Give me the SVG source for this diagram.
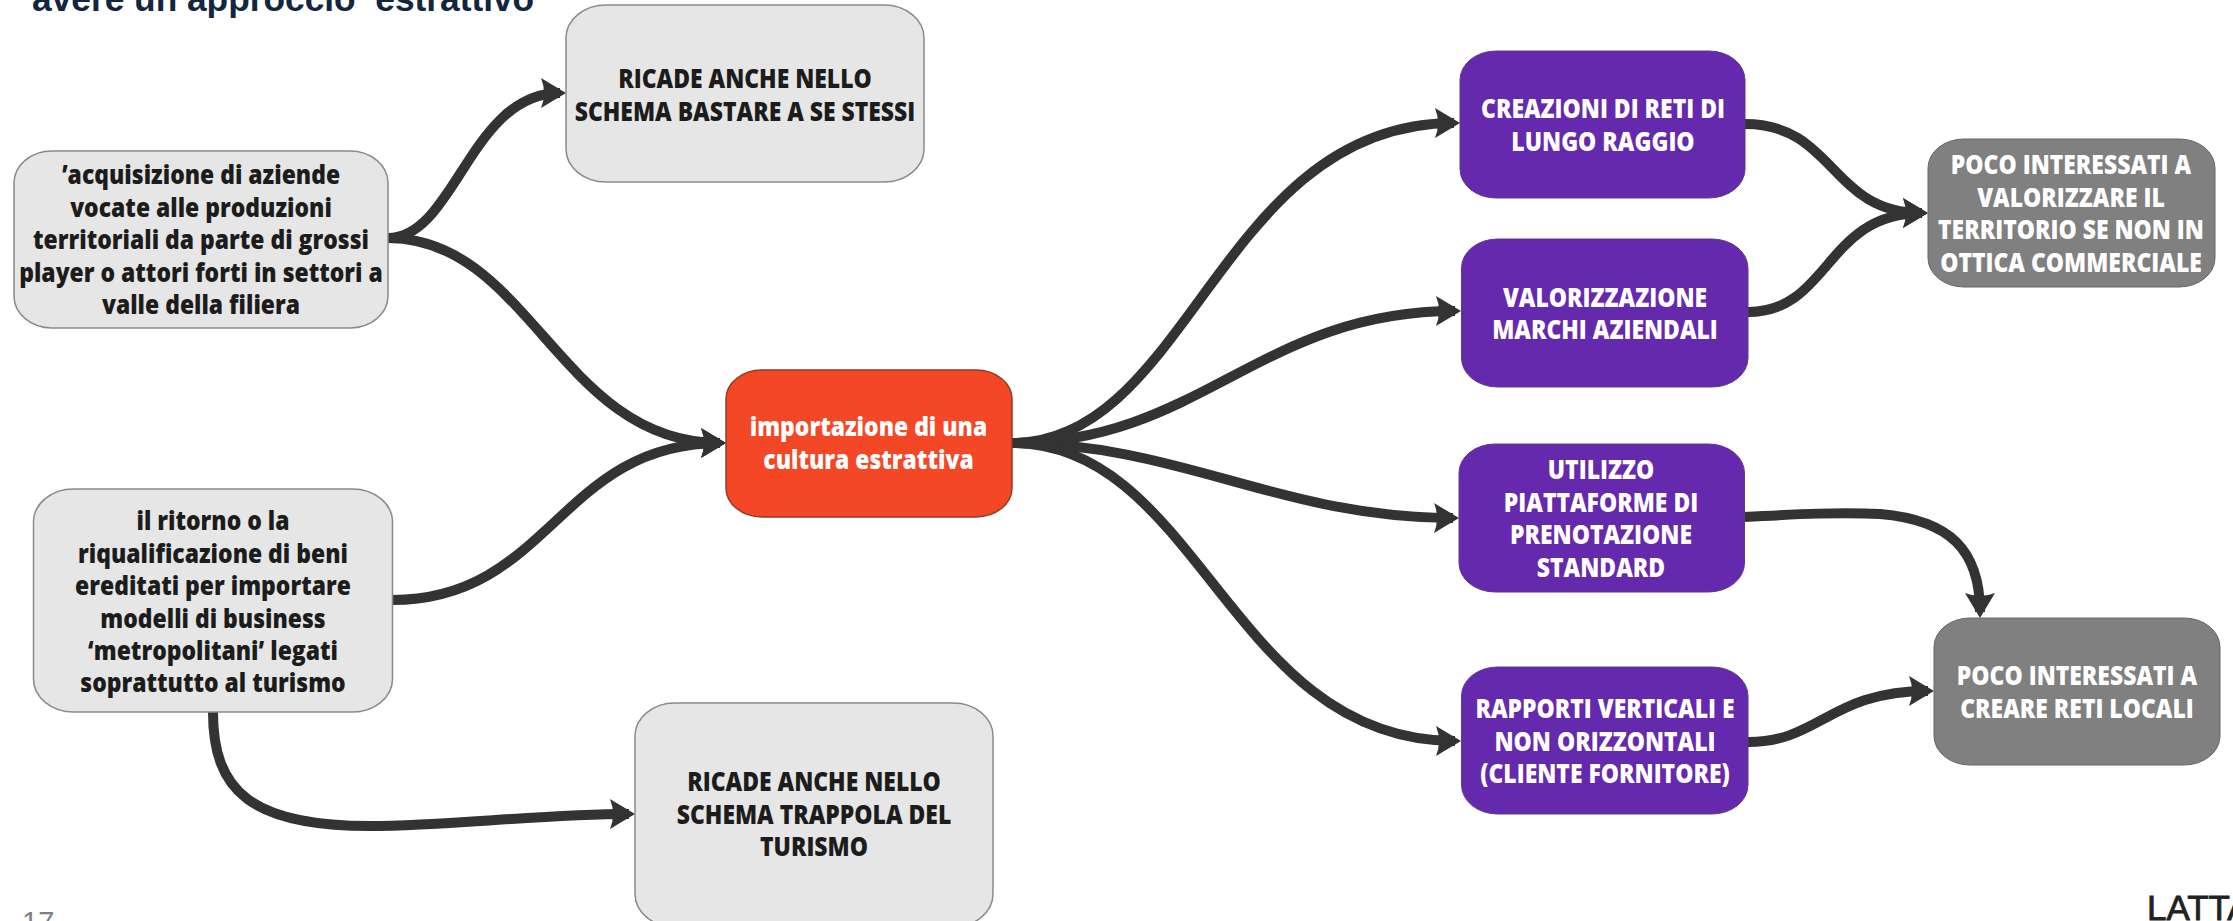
<svg xmlns="http://www.w3.org/2000/svg" width="2233" height="921" viewBox="0 0 2233 921">
<style>
text{font-family:"Open Sans","Liberation Sans",sans-serif;font-weight:800;font-size:26.500px;text-anchor:middle;transform-box:fill-box;transform-origin:center;transform:translateY(1.5px) scaleX(.865)}
.l rect{fill:#e6e6e6;stroke:#8a8a8a;stroke-width:1.5}
.l text{fill:#1c1c1c}
.r rect{fill:#f44725;stroke:#8f3a28;stroke-width:1.5}
.p rect{fill:#6529ae;stroke:#5b3a8c;stroke-width:1}
.g rect{fill:#808080;stroke:#666;stroke-width:1}
.r text,.p text,.g text{fill:#fff}
.c path{fill:none;stroke:#333;stroke-width:10;marker-end:url(#a)}
.t{font-family:"Liberation Sans",Arial,sans-serif;font-weight:700;text-anchor:start;transform:none}
</style>
<defs>
<marker id="a" markerUnits="userSpaceOnUse" markerWidth="30" markerHeight="36" refX="20" refY="18" orient="auto" viewBox="0 0 30 36">
<path d="M1,3 L26,18 L1,33 Q7,18 1,3 Z" fill="#333"/>
</marker>
</defs>
<rect width="2233" height="921" fill="#fff"/>
<text class="t" x="32" y="11" style="font-size:35.300px;fill:#12263f">avere un approccio ‘estrattivo’</text>
<text class="t" x="22" y="932" style="font-size:29px;font-weight:400;fill:#7f7f7f">17</text>
<text class="t" x="2147" y="920" style="font-size:35px;font-weight:400;fill:#222;stroke:#222;stroke-width:.8">LATTA</text>
<g id="connectors" class="c">
<path d="M388,238 C455,238 470,93 560,93"/>
<path d="M388,238 C530,238 560,443 720,443"/>
<path d="M392,600 C550,600 560,443 720,443"/>
<path d="M213,712 C213,790 250,826 370,826 C450,826 540,814 629,814"/>
<path d="M1012,443 C1190,443 1220,123 1454,123"/>
<path d="M1012,443 C1200,443 1260,311 1455,311"/>
<path d="M1012,443 C1180,443 1280,518 1453,518"/>
<path d="M1012,443 C1200,443 1230,741 1455,741"/>
<path d="M1745,124 C1835,124 1830,213 1922,213"/>
<path d="M1748,312 C1830,312 1825,213 1922,213"/>
<path d="M1744,517 C1800,514 1840,512 1880,514 C1950,520 1980,550 1980,612"/>
<path d="M1748,742 C1820,742 1830,691 1928,691"/>
</g>
<g id="n-a" class="l"><rect x="14" y="151" width="374" height="177" rx="38" ry="32"/>
<text x="201" y="183">’acquisizione di aziende</text><text x="201" y="216">vocate alle produzioni</text><text x="201" y="248">territoriali da parte di grossi</text><text x="201" y="281">player o attori forti in settori a</text><text x="201" y="313">valle della filiera</text></g>
<g id="n-b" class="l"><rect x="566" y="5" width="358" height="177" rx="40" ry="33"/>
<text x="745" y="87">RICADE ANCHE NELLO</text><text x="745" y="119.500">SCHEMA BASTARE A SE STESSI</text></g>
<g id="n-c" class="l"><rect x="33.500" y="489" width="359" height="223" rx="40" ry="33"/>
<text x="213" y="529">il ritorno o la</text><text x="213" y="561.500">riqualificazione di beni</text><text x="213" y="594">ereditati per importare</text><text x="213" y="626.500">modelli di business</text><text x="213" y="659">‘metropolitani’ legati</text><text x="213" y="691">soprattutto al turismo</text></g>
<g id="n-d" class="l"><rect x="635" y="703" width="358" height="224" rx="40" ry="33"/>
<text x="814" y="790">RICADE ANCHE NELLO</text><text x="814" y="822.500">SCHEMA TRAPPOLA DEL</text><text x="814" y="855">TURISMO</text></g>
<g id="n-red" class="r"><rect x="726" y="370" width="286" height="147" rx="36" ry="29"/>
<text x="868.500" y="435">importazione di una</text><text x="868.500" y="468">cultura estrattiva</text></g>
<g id="n-p1" class="p"><rect x="1460" y="51" width="285" height="147" rx="36" ry="29"/>
<text x="1603" y="117">CREAZIONI DI RETI DI</text><text x="1603" y="149.500">LUNGO RAGGIO</text></g>
<g id="n-p2" class="p"><rect x="1461.500" y="239" width="286.500" height="148" rx="36" ry="29"/>
<text x="1605" y="306">VALORIZZAZIONE</text><text x="1605" y="338">MARCHI AZIENDALI</text></g>
<g id="n-p3" class="p"><rect x="1459" y="444" width="285.500" height="148" rx="36" ry="29"/>
<text x="1601" y="478">UTILIZZO</text><text x="1601" y="510.500">PIATTAFORME DI</text><text x="1601" y="543">PRENOTAZIONE</text><text x="1601" y="575.500">STANDARD</text></g>
<g id="n-p4" class="p"><rect x="1461.500" y="667" width="286.500" height="147" rx="36" ry="29"/>
<text x="1605" y="717">RAPPORTI VERTICALI E</text><text x="1605" y="749.500">NON ORIZZONTALI</text><text x="1605" y="782">(CLIENTE FORNITORE)</text></g>
<g id="n-g1" class="g"><rect x="1928" y="139" width="287" height="148" rx="36" ry="29"/>
<text x="2071" y="173">POCO INTERESSATI A</text><text x="2071" y="205.500">VALORIZZARE IL</text><text x="2071" y="238">TERRITORIO SE NON IN</text><text x="2071" y="270.500">OTTICA COMMERCIALE</text></g>
<g id="n-g2" class="g"><rect x="1934" y="618" width="286" height="147" rx="36" ry="29"/>
<text x="2077" y="684">POCO INTERESSATI A</text><text x="2077" y="716.500">CREARE RETI LOCALI</text></g>
</svg>
